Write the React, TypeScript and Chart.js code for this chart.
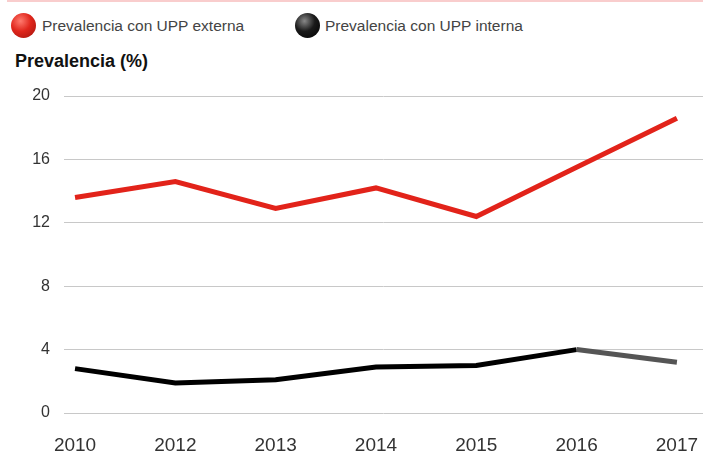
import React, { useEffect, useRef } from "react";
import { Chart, registerables } from "chart.js";

Chart.register(...registerables);

const years = ["2010", "2012", "2013", "2014", "2015", "2016", "2017"];
const externa = [13.6, 14.6, 12.9, 14.2, 12.4, 15.5, 18.6];
const interna = [2.8, 1.9, 2.1, 2.9, 3.0, 4.0, 3.2];
const yTicks = [0, 4, 8, 12, 16, 20];
const legendLabels = ["Prevalencia con UPP externa", "Prevalencia con UPP interna"];
const axisTitle = "Prevalencia (%)";

const FONT = "'Liberation Sans', Arial, sans-serif";

export default function App() {
  const ref = useRef<HTMLCanvasElement>(null);

  useEffect(() => {
    document.body.style.margin = "0";
    const ctx = ref.current!.getContext("2d")!;
    const chart = new Chart(ctx, {
      type: "line",
      data: {
        datasets: [
          {
            label: legendLabels[0],
            data: externa.map((v, i) => ({ x: i, y: v })),
            borderColor: "#e2231a",
            borderWidth: 5,
            pointRadius: 0,
            tension: 0,
            borderJoinStyle: "miter",
            borderCapStyle: "butt",
          },
          {
            label: legendLabels[1],
            data: interna.map((v, i) => ({ x: i, y: v })),
            borderColor: "#000",
            borderWidth: 5,
            pointRadius: 0,
            tension: 0,
            borderJoinStyle: "miter",
            borderCapStyle: "butt",
            segment: {
              borderColor: (c: any) => (c.p0DataIndex === 5 ? "#555" : "#000"),
            },
          },
        ],
      },
      options: {
        animation: false,
        responsive: false,
        maintainAspectRatio: false,
        layout: { padding: { top: 96, right: 0, left: 0, bottom: 0 } },
        plugins: { legend: { display: false }, tooltip: { enabled: false } },
        scales: {
          x: {
            type: "linear",
            min: -0.11,
            max: 6.26,
            afterBuildTicks: (s: any) => {
              s.ticks = years.map((_, i) => ({ value: i }));
            },
            afterFit: (s: any) => {
              s.height = 42;
              s.paddingLeft = 0;
              s.paddingRight = 0;
            },
            grid: { display: false, drawTicks: false },
            border: { display: false },
            ticks: {
              padding: 21,
              color: "#333",
              font: { family: FONT, size: 19 },
              maxRotation: 0,
              autoSkip: false,
              callback: (v: any) => years[v] ?? "",
            },
          },
          y: {
            min: 0,
            max: 20,
            afterBuildTicks: (s: any) => {
              s.ticks = yTicks.map((v) => ({ value: v }));
            },
            afterFit: (s: any) => {
              s.width = 64;
              s.paddingTop = 0;
              s.paddingBottom = 0;
            },
            grid: { color: "#c8c8c8", lineWidth: 1, drawTicks: false },
            border: { display: false },
            ticks: {
              padding: 14,
              color: "#333",
              font: { family: FONT, size: 16 },
            },
          },
        },
      },
    });
    return () => chart.destroy();
  }, []);

  const ball = (bg: string, left: number) => ({
    position: "absolute" as const,
    left,
    top: 13,
    width: 25,
    height: 25,
    borderRadius: "50%",
    background: bg,
  });

  const legendText = (left: number) => ({
    position: "absolute" as const,
    left,
    top: 16,
    fontSize: 15.5,
    color: "#444",
    lineHeight: "20px",
    whiteSpace: "nowrap" as const,
  });

  return (
    <div style={{ position: "absolute", left: 0, top: 0, width: 703, height: 455, background: "#fff", fontFamily: FONT }}>
      <div style={{ position: "absolute", left: 7, top: 0, width: 696, height: 2, background: "#f9cdcd" }} />
      <div style={ball("radial-gradient(circle at 38% 32%, #ff7a6e 0%, #e0261c 45%, #9e120c 100%)", 11)} />
      <div style={legendText(42)}>{legendLabels[0]}</div>
      <div style={ball("radial-gradient(circle at 38% 32%, #888 0%, #1a1a1a 45%, #000 100%)", 295)} />
      <div style={legendText(325)}>{legendLabels[1]}</div>
      <div style={{ position: "absolute", left: 15, top: 51, fontSize: 18, fontWeight: "bold", color: "#111", lineHeight: "20px", whiteSpace: "nowrap" }}>
        {axisTitle}
      </div>
      <canvas ref={ref} width={703} height={455} style={{ position: "absolute", left: 0, top: 0, width: 703, height: 455 }} />
    </div>
  );
}
